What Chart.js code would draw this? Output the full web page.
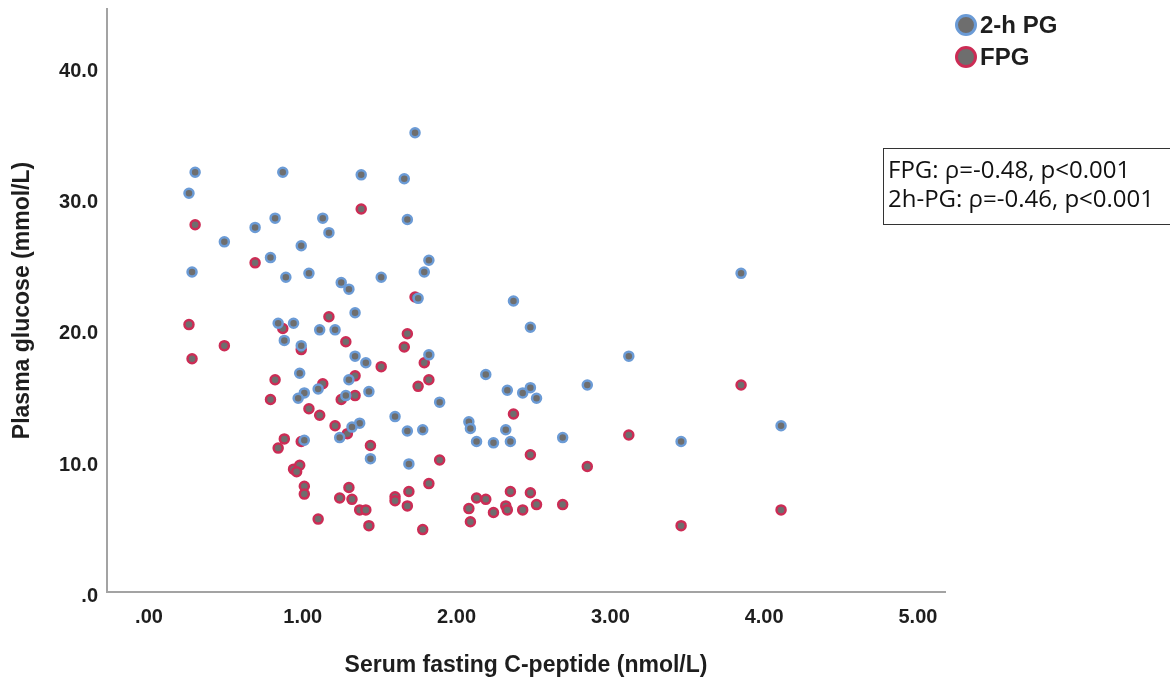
<!DOCTYPE html>
<html>
<head>
<meta charset="utf-8">
<script src="https://cdn.jsdelivr.net/npm/chart.js@4/dist/chart.umd.min.js"></script>
<style>
  body { margin: 0; background: #fff; }
  canvas { display: block; }
</style>
</head>
<body>
<canvas id="scatter" width="1170" height="682"></canvas>
<script>
// 2-h plasma glucose vs fasting C-peptide
const cPeptidePG = [1.73, 0.30, 0.87, 1.38, 1.66, 0.26, 0.82, 1.13, 1.68, 0.69,
  1.17, 0.49, 0.99, 0.79, 1.82, 1.79, 0.28, 0.89, 1.04, 1.51,
  1.25, 1.30, 1.75, 1.34, 0.84, 0.94, 1.11, 1.21, 0.88, 0.99,
  1.82, 1.34, 1.41, 0.98, 1.01, 0.97, 1.10, 1.30, 1.28, 1.43,
  1.60, 1.37, 1.32, 1.24, 1.68, 1.78, 1.89, 1.01, 1.44, 1.69,
  2.37, 2.48, 3.85, 3.12, 2.19, 2.85, 2.33, 2.43, 2.48, 2.52,
  2.08, 2.09, 2.13, 2.24, 2.32, 2.35, 2.69, 3.46, 4.11];
const pg2h = [35.3, 32.3, 32.3, 32.1, 31.8, 30.7, 28.8, 28.8, 28.7, 28.1,
  27.7, 27.0, 26.7, 25.8, 25.6, 24.7, 24.7, 24.3, 24.6, 24.3,
  23.9, 23.4, 22.7, 21.6, 20.8, 20.8, 20.3, 20.3, 19.5, 19.1,
  18.4, 18.3, 17.8, 17.0, 15.5, 15.1, 15.8, 16.5, 15.3, 15.6,
  13.7, 13.2, 12.9, 12.1, 12.6, 12.7, 14.8, 11.9, 10.5, 10.1,
  22.5, 20.5, 24.6, 18.3, 16.9, 16.1, 15.7, 15.5, 15.9, 15.1,
  13.3, 12.8, 11.8, 11.7, 12.7, 11.8, 12.1, 11.8, 13.0];

// fasting plasma glucose vs fasting C-peptide
const cPeptideFPG = [1.38, 0.30, 0.69, 1.73, 1.17, 0.26, 0.87, 1.68, 1.28, 1.66,
  0.49, 0.99, 1.79, 0.28, 1.51, 0.82, 0.79, 1.13, 1.34, 1.25,
  1.34, 1.04, 1.11, 1.21, 1.29, 0.88, 0.84, 0.99, 1.44, 1.89,
  0.94, 0.98, 0.96, 1.01, 1.01, 1.30, 1.24, 1.32, 1.37, 1.41,
  1.10, 1.43, 1.60, 1.60, 1.69, 1.68, 1.82, 1.78, 1.75, 1.82,
  3.85, 2.37, 3.12, 2.48, 2.85, 2.08, 2.09, 2.13, 2.19, 2.24,
  2.35, 2.32, 2.33, 2.43, 2.48, 2.52, 2.69, 3.46, 4.11];
const fpg = [29.5, 28.3, 25.4, 22.8, 21.3, 20.7, 20.4, 20.0, 19.4, 19.0,
  19.1, 18.8, 17.8, 18.1, 17.5, 16.5, 15.0, 16.2, 16.8, 15.0,
  15.3, 14.3, 13.8, 13.0, 12.4, 12.0, 11.3, 11.8, 11.5, 10.4,
  9.7, 10.0, 9.5, 8.4, 7.8, 8.3, 7.5, 7.4, 6.6, 6.6,
  5.9, 5.4, 7.6, 7.3, 8.0, 6.9, 8.6, 5.1, 16.0, 16.5,
  16.1, 13.9, 12.3, 10.8, 9.9, 6.7, 5.7, 7.5, 7.4, 6.4,
  8.0, 6.9, 6.6, 6.6, 7.9, 7.0, 7.0, 5.4, 6.6];

const xTickValues = [0, 1, 2, 3, 4, 5];
const xTickLabels = ['.00', '1.00', '2.00', '3.00', '4.00', '5.00'];
const yTickValues = [0, 10, 20, 30, 40];
const yTickLabels = ['.0', '10.0', '20.0', '30.0', '40.0'];
const statLines = ['FPG: ρ=-0.48, p<0.001', '2h-PG: ρ=-0.46, p<0.001'];

const GRAY = '#6e6e6e';
const BLUE = '#6b9bd6';
const RED = '#cc2c55';
const AXIS = '#a3a3a3';
const TEXT = '#1e1e1e';
const ARIAL = '"Liberation Sans", Arial, sans-serif';

// legend + correlation box, drawn outside the plot area
const sideNotes = {
  id: 'sideNotes',
  afterDraw(chart) {
    const ctx = chart.ctx;
    ctx.save();
    chart.data.datasets.forEach((ds, i) => {
      const y = 25 + i * 32;
      ctx.beginPath();
      ctx.arc(966, y, 9.5, 0, Math.PI * 2);
      ctx.fillStyle = ds.backgroundColor;
      ctx.fill();
      ctx.lineWidth = 3;
      ctx.strokeStyle = ds.borderColor;
      ctx.stroke();
      ctx.fillStyle = TEXT;
      ctx.font = 'bold 24px ' + ARIAL;
      ctx.textBaseline = 'middle';
      ctx.fillText(ds.label, 980, y + 1);
    });
    ctx.lineWidth = 1;
    ctx.strokeStyle = '#333';
    ctx.strokeRect(883.5, 148.5, 300, 76);
    ctx.fillStyle = '#111';
    ctx.font = '24px "Open Sans", sans-serif';
    ctx.textBaseline = 'alphabetic';
    statLines.forEach((t, i) => ctx.fillText(t, 888, 178 + i * 29));
    ctx.restore();
  }
};

const points = (xs, ys) => xs.map((x, i) => ({x: x, y: ys[i]}));

new Chart(document.getElementById('scatter'), {
  type: 'scatter',
  data: {
    datasets: [
      {
        label: '2-h PG',
        data: points(cPeptidePG, pg2h),
        backgroundColor: GRAY,
        borderColor: BLUE,
        borderWidth: 2.5,
        pointRadius: 4.5,
        pointHoverRadius: 4.5
      },
      {
        label: 'FPG',
        data: points(cPeptideFPG, fpg),
        backgroundColor: GRAY,
        borderColor: RED,
        borderWidth: 2.5,
        pointRadius: 4.5,
        pointHoverRadius: 4.5
      }
    ]
  },
  options: {
    responsive: false,
    animation: false,
    events: [],
    layout: {padding: {top: 9, right: 225, bottom: 0, left: 0}},
    plugins: {
      legend: {display: false},
      tooltip: {enabled: false}
    },
    scales: {
      x: {
        type: 'linear',
        min: -0.273,
        max: 5.176,
        grid: {display: false, drawTicks: false},
        border: {color: AXIS, width: 2},
        afterFit: s => { s.height = 90; s.paddingLeft = 0; s.paddingRight = 0; },
        afterBuildTicks: s => { s.ticks = xTickValues.map(v => ({value: v})); },
        ticks: {
          autoSkip: false,
          maxRotation: 0,
          padding: 13,
          color: TEXT,
          font: {family: ARIAL, size: 20, weight: 'bold'},
          callback: (v, i) => xTickLabels[i]
        },
        title: {
          display: true,
          text: 'Serum fasting C-peptide (nmol/L)',
          color: TEXT,
          font: {family: ARIAL, size: 23, weight: 'bold'},
          padding: {top: 0, bottom: 3}
        }
      },
      y: {
        type: 'linear',
        min: 0.35,
        max: 44.72,
        grid: {display: false, drawTicks: false},
        border: {color: AXIS, width: 2},
        afterFit: s => { s.width = 107; s.paddingTop = 0; s.paddingBottom = 0; },
        afterBuildTicks: s => { s.ticks = yTickValues.map(v => ({value: v})); },
        ticks: {
          autoSkip: false,
          padding: 9,
          color: TEXT,
          font: {family: ARIAL, size: 20, weight: 'bold'},
          callback: (v, i) => yTickLabels[i]
        },
        title: {
          display: true,
          text: 'Plasma glucose (mmol/L)',
          color: TEXT,
          font: {family: ARIAL, size: 23, weight: 'bold'},
          padding: {top: 9, bottom: 0}
        }
      }
    }
  },
  plugins: [sideNotes]
});
</script>
</body>
</html>
